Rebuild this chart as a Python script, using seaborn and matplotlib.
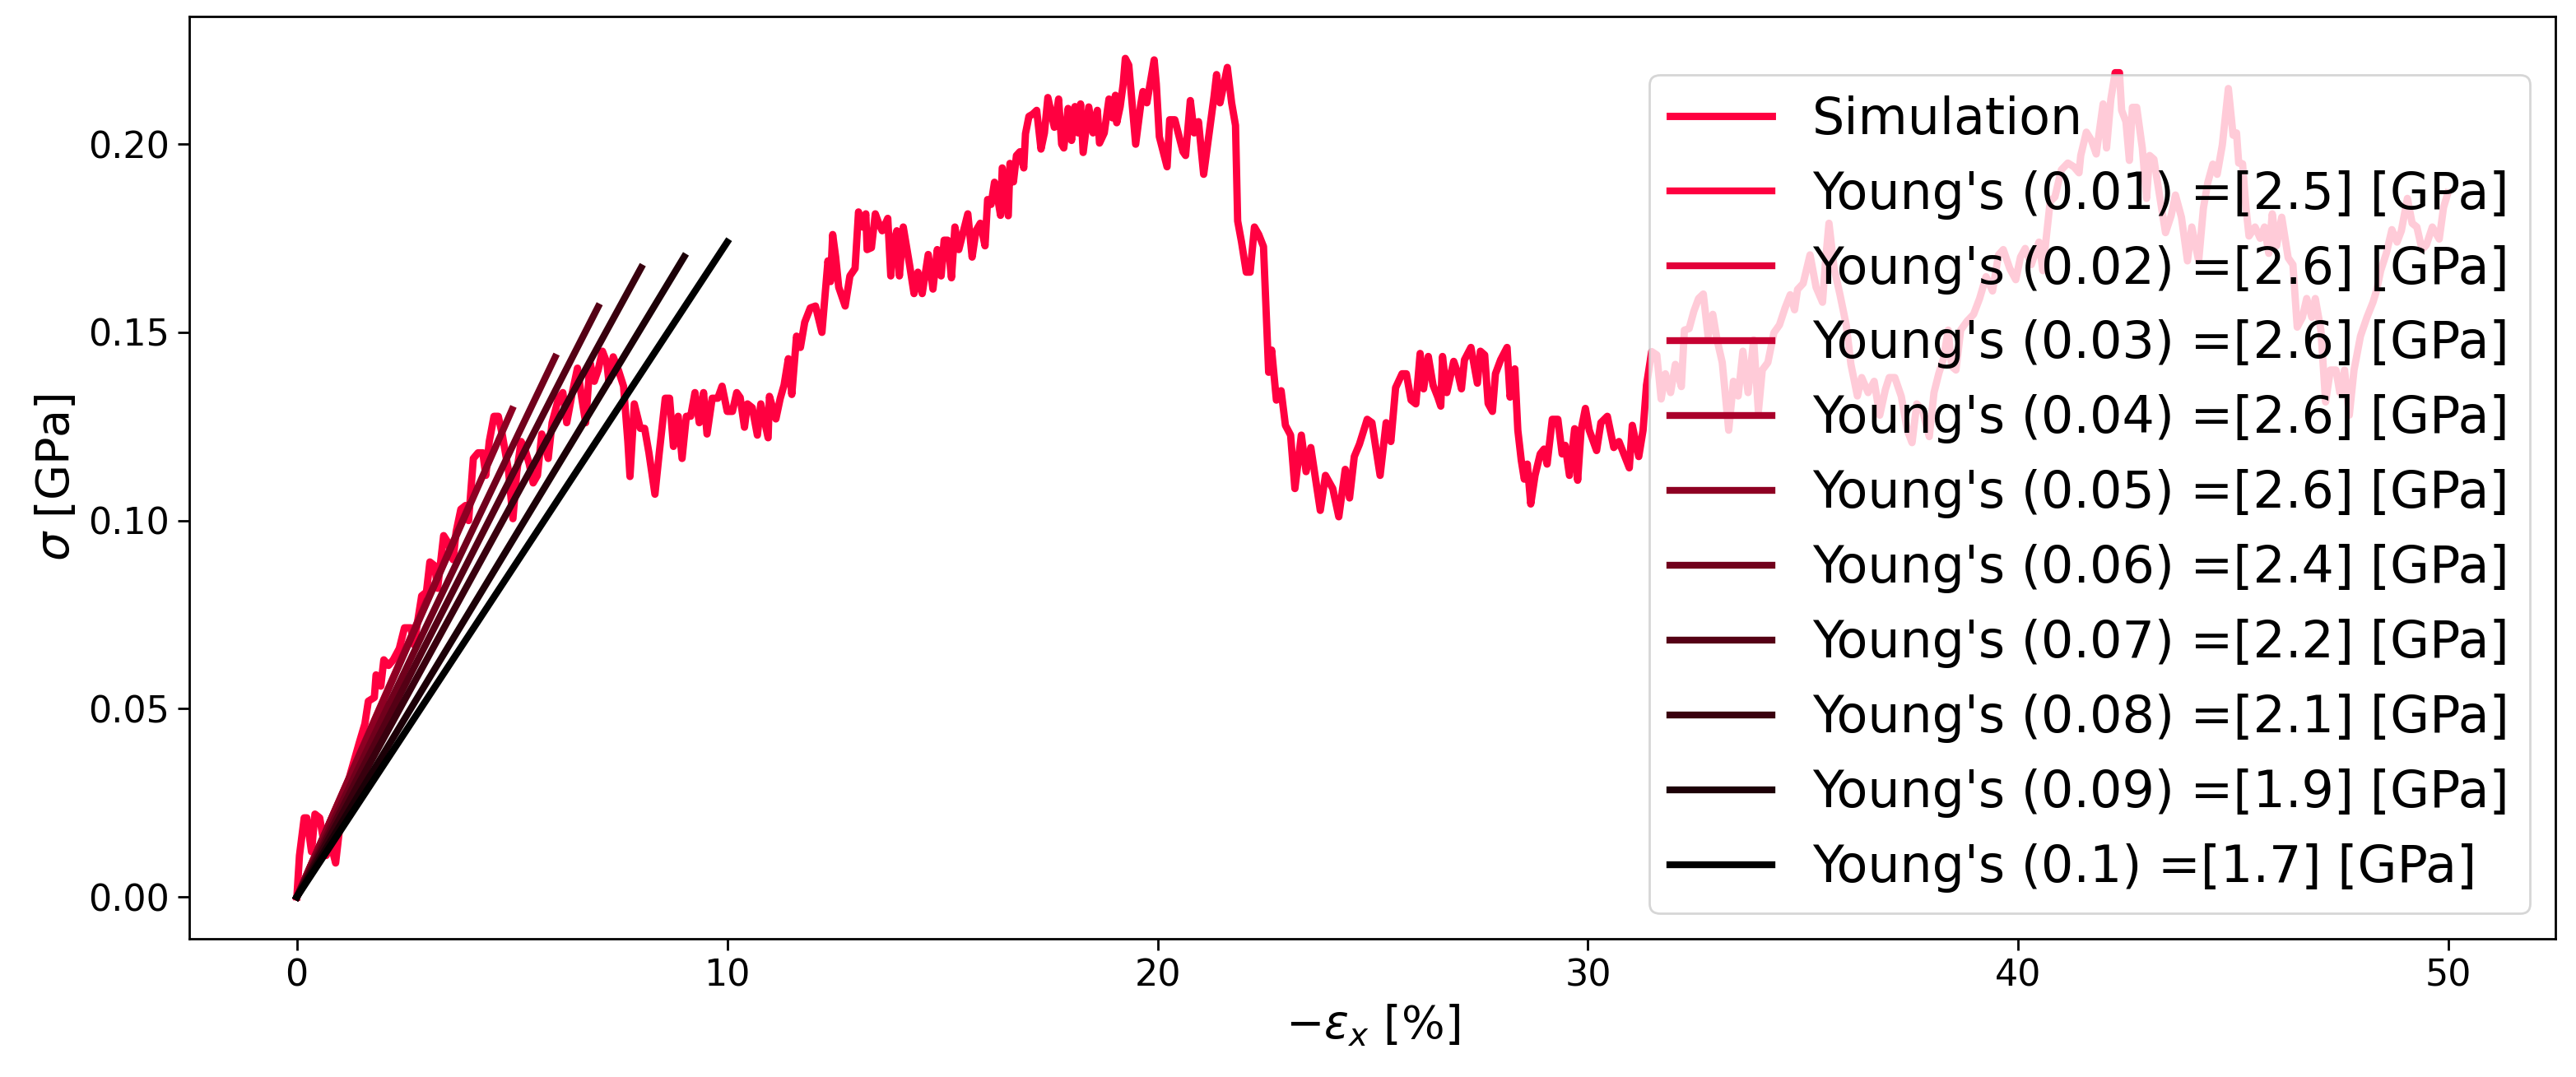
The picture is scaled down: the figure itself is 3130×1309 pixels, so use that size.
import matplotlib
matplotlib.use("Agg")
import matplotlib.pyplot as plt
import seaborn as sns
import numpy as np

# ---- data ----
strain_pct = [
    0.00, 0.06, 0.17, 0.23, 0.34, 0.42, 0.53, 0.68, 0.79, 0.90, 1.05, 1.25, 1.45, 1.58, 1.66, 1.80, 1.84, 1.95,
    2.02, 2.13, 2.24, 2.38, 2.50, 2.65, 2.72, 2.90, 3.01, 3.09, 3.20, 3.27, 3.41, 3.52, 3.63, 3.70, 3.81, 3.92,
    3.99, 4.10, 4.21, 4.32, 4.39, 4.47, 4.58, 4.68, 4.77, 4.92, 5.02, 5.11, 5.21, 5.30, 5.40, 5.49, 5.59, 5.69,
    5.84, 5.93, 6.08, 6.18, 6.27, 6.40, 6.52, 6.62, 6.71, 6.81, 6.91, 7.00, 7.10, 7.20, 7.25, 7.35, 7.47, 7.59,
    7.69, 7.74, 7.84, 7.98, 8.08, 8.18, 8.32, 8.42, 8.56, 8.66, 8.75, 8.86, 8.95, 9.05, 9.15, 9.25, 9.35, 9.45,
    9.53, 9.65, 9.78, 9.88, 10.00, 10.12, 10.22, 10.30, 10.40, 10.47, 10.58, 10.70, 10.78, 10.95, 10.98, 11.13,
    11.23, 11.32, 11.42, 11.50, 11.61, 11.70, 11.80, 11.93, 12.05, 12.20, 12.34, 12.40, 12.45, 12.52, 12.59,
    12.74, 12.85, 12.97, 13.05, 13.14, 13.22, 13.25, 13.35, 13.44, 13.52, 13.60, 13.73, 13.80, 13.87, 13.94,
    14.00, 14.09, 14.24, 14.34, 14.43, 14.53, 14.67, 14.78, 14.88, 14.97, 15.04, 15.12, 15.21, 15.29, 15.38,
    15.48, 15.59, 15.69, 15.78, 15.88, 15.99, 16.05, 16.13, 16.21, 16.28, 16.35, 16.39, 16.53, 16.57, 16.65,
    16.72, 16.80, 16.89, 16.93, 17.01, 17.10, 17.19, 17.29, 17.37, 17.45, 17.60, 17.70, 17.77, 17.82, 17.92,
    18.00, 18.08, 18.15, 18.21, 18.27, 18.40, 18.50, 18.60, 18.65, 18.76, 18.87, 18.95, 19.02, 19.05, 19.13,
    19.20, 19.25, 19.33, 19.49, 19.61, 19.66, 19.75, 19.92, 19.97, 20.04, 20.22, 20.28, 20.40, 20.59, 20.65,
    20.76, 20.85, 20.95, 21.07, 21.31, 21.37, 21.45, 21.62, 21.72, 21.81, 21.86, 21.95, 22.06, 22.15, 22.25,
    22.35, 22.46, 22.58, 22.65, 22.76, 22.87, 22.97, 23.09, 23.19, 23.34, 23.45, 23.56, 23.78, 23.90, 24.07,
    24.21, 24.36, 24.46, 24.57, 24.69, 24.87, 24.98, 25.17, 25.31, 25.42, 25.53, 25.68, 25.78, 25.89, 26.00,
    26.10, 26.18, 26.29, 26.40, 26.51, 26.58, 26.62, 26.72, 26.88, 26.98, 27.06, 27.13, 27.28, 27.43, 27.50,
    27.60, 27.68, 27.78, 27.85, 27.97, 28.12, 28.19, 28.30, 28.37, 28.45, 28.52, 28.59, 28.67, 28.77, 28.89,
    28.98, 29.05, 29.17, 29.30, 29.40, 29.47, 29.57, 29.69, 29.76, 29.84, 29.94, 30.03, 30.20, 30.30, 30.45,
    30.60, 30.72, 30.96, 31.03, 31.18, 31.28, 31.36, 31.48, 31.60, 31.70, 31.80, 31.92, 32.03, 32.17, 32.24,
    32.35, 32.46, 32.57, 32.68, 32.79, 32.90, 33.00, 33.12, 33.27, 33.38, 33.49, 33.60, 33.72, 33.85, 33.96,
    34.05, 34.18, 34.32, 34.45, 34.58, 34.70, 34.80, 34.87, 35.00, 35.16, 35.30, 35.45, 35.52, 35.60, 35.72,
    35.86, 36.00, 36.11, 36.26, 36.36, 36.51, 36.65, 36.78, 36.91, 37.00, 37.13, 37.28, 37.42, 37.53, 37.64,
    37.78, 37.93, 38.04, 38.15, 38.26, 38.37, 38.45, 38.55, 38.66, 38.81, 38.96, 39.10, 39.25, 39.40, 39.54,
    39.65, 39.80, 39.94, 40.05, 40.16, 40.30, 40.48, 40.57, 40.63, 40.74, 40.85, 41.00, 41.15, 41.29, 41.41,
    41.45, 41.58, 41.70, 41.81, 41.97, 42.05, 42.15, 42.25, 42.35, 42.40, 42.50, 42.58, 42.65, 42.75, 42.88,
    42.98, 43.05, 43.15, 43.28, 43.42, 43.55, 43.65, 43.79, 43.93, 44.03, 44.19, 44.30, 44.40, 44.52, 44.62,
    44.74, 44.88, 44.99, 45.07, 45.12, 45.21, 45.29, 45.36, 45.50, 45.62, 45.72, 45.82, 45.90, 46.00, 46.12,
    46.27, 46.38, 46.48, 46.60, 46.70, 46.82, 46.90, 47.03, 47.14, 47.25, 47.38, 47.47, 47.58, 47.69, 47.80,
    47.95, 48.10, 48.24, 48.32, 48.42, 48.55, 48.68, 48.80, 48.90, 49.04, 49.15, 49.26, 49.38, 49.48, 49.62,
    49.78, 49.88, 49.98,
]
stress_gpa = [
    0.000, 0.011, 0.021, 0.021, 0.012, 0.022, 0.021, 0.011, 0.014, 0.009, 0.024, 0.033, 0.041, 0.046, 0.052, 0.053, 0.059, 0.056,
    0.063, 0.0615, 0.063, 0.066, 0.0715, 0.0715, 0.067, 0.080, 0.081, 0.089, 0.088, 0.082, 0.096, 0.094, 0.0896, 0.097, 0.103, 0.104,
    0.100, 0.1165, 0.118, 0.118, 0.112, 0.121, 0.1277, 0.1277, 0.123, 0.113, 0.1005, 0.113, 0.121, 0.119, 0.115, 0.110, 0.112, 0.123,
    0.1165, 0.126, 0.1325, 0.134, 0.126, 0.134, 0.1405, 0.1325, 0.126, 0.142, 0.137, 0.140, 0.145, 0.142, 0.137, 0.1435, 0.140, 0.1357,
    0.121, 0.1117, 0.131, 0.1245, 0.1245, 0.118, 0.107, 0.118, 0.1325, 0.1325, 0.1197, 0.1277, 0.1165, 0.1277, 0.1277, 0.134, 0.126, 0.134,
    0.123, 0.1325, 0.1325, 0.1357, 0.129, 0.129, 0.134, 0.1327, 0.1248, 0.131, 0.130, 0.1227, 0.131, 0.122, 0.133, 0.127,
    0.1324, 0.136, 0.143, 0.1335, 0.149, 0.146, 0.1527, 0.1565, 0.157, 0.150, 0.169, 0.1635, 0.176, 0.170, 0.162,
    0.157, 0.165, 0.167, 0.182, 0.178, 0.1815, 0.172, 0.1725, 0.1815, 0.179, 0.177, 0.1803, 0.165, 0.174, 0.177,
    0.165, 0.178, 0.1677, 0.1603, 0.166, 0.1603, 0.1707, 0.1615, 0.172, 0.165, 0.1745, 0.1745, 0.1645, 0.178, 0.172,
    0.1765, 0.1815, 0.170, 0.177, 0.179, 0.173, 0.1853, 0.184, 0.1899, 0.186, 0.1811, 0.1937, 0.181, 0.1949, 0.190,
    0.197, 0.198, 0.1937, 0.2028, 0.2074, 0.208, 0.209, 0.1987, 0.203, 0.2124, 0.2045, 0.212, 0.200, 0.199, 0.2095,
    0.201, 0.210, 0.203, 0.2107, 0.1978, 0.2099, 0.203, 0.209, 0.2003, 0.203, 0.212, 0.207, 0.213, 0.2057, 0.210,
    0.216, 0.2228, 0.221, 0.200, 0.2107, 0.214, 0.211, 0.2224, 0.216, 0.202, 0.194, 0.2065, 0.2065, 0.198, 0.197,
    0.2116, 0.203, 0.206, 0.192, 0.2126, 0.2185, 0.211, 0.2204, 0.211, 0.205, 0.1796, 0.174, 0.166, 0.166, 0.178,
    0.176, 0.1728, 0.1394, 0.1453, 0.132, 0.1345, 0.1253, 0.1227, 0.1085, 0.1227, 0.113, 0.1194, 0.1027, 0.112, 0.1085,
    0.101, 0.1136, 0.106, 0.117, 0.1203, 0.1269, 0.126, 0.112, 0.126, 0.121, 0.1353, 0.139, 0.139, 0.132, 0.131,
    0.1444, 0.135, 0.1436, 0.136, 0.1328, 0.1304, 0.1436, 0.134, 0.1423, 0.139, 0.135, 0.1427, 0.146, 0.1365, 0.145,
    0.144, 0.1311, 0.129, 0.139, 0.1427, 0.146, 0.1328, 0.1403, 0.124, 0.116, 0.111, 0.115, 0.1044, 0.112, 0.1177,
    0.119, 0.115, 0.1269, 0.1269, 0.1177, 0.120, 0.112, 0.1244, 0.1107, 0.124, 0.1298, 0.124, 0.1186, 0.126, 0.1277,
    0.1194, 0.121, 0.114, 0.1253, 0.117, 0.124, 0.136, 0.1449, 0.144, 0.1323, 0.139, 0.134, 0.1415, 0.1356, 0.1506,
    0.151, 0.1556, 0.159, 0.1602, 0.149, 0.1548, 0.148, 0.142, 0.124, 0.137, 0.1331, 0.145, 0.134, 0.148, 0.129,
    0.140, 0.142, 0.1499, 0.152, 0.1565, 0.160, 0.156, 0.1614, 0.163, 0.1706, 0.162, 0.158, 0.169, 0.179, 0.167,
    0.1598, 0.152, 0.1415, 0.1331, 0.138, 0.134, 0.137, 0.128, 0.1348, 0.138, 0.138, 0.133, 0.124, 0.1207, 0.131,
    0.129, 0.1223, 0.134, 0.139, 0.143, 0.1506, 0.141, 0.140, 0.1506, 0.153, 0.1548, 0.159, 0.1648, 0.161, 0.1706,
    0.172, 0.167, 0.164, 0.170, 0.1723, 0.168, 0.174, 0.1664, 0.1732, 0.1848, 0.186, 0.1932, 0.195, 0.194, 0.1924,
    0.197, 0.2032, 0.201, 0.1974, 0.2107, 0.199, 0.212, 0.219, 0.219, 0.209, 0.206, 0.1957, 0.2098, 0.2098, 0.199,
    0.1856, 0.197, 0.196, 0.1865, 0.1765, 0.181, 0.1865, 0.1806, 0.169, 0.178, 0.169, 0.183, 0.1897, 0.1947, 0.192,
    0.1998, 0.2148, 0.2024, 0.203, 0.195, 0.1948, 0.183, 0.1756, 0.178, 0.175, 0.178, 0.171, 0.1815, 0.173, 0.1806,
    0.1698, 0.168, 0.1514, 0.154, 0.159, 0.154, 0.159, 0.1506, 0.1315, 0.140, 0.140, 0.134, 0.140, 0.128, 0.140,
    0.149, 0.154, 0.158, 0.161, 0.1664, 0.171, 0.1773, 0.174, 0.177, 0.1856, 0.179, 0.178, 0.172, 0.1732, 0.178,
    0.1748, 0.1832, 0.187,
]

fit_strains = [0.01, 0.02, 0.03, 0.04, 0.05, 0.06, 0.07, 0.08, 0.09, 0.1]
fit_moduli = [2.52, 2.58, 2.61, 2.60, 2.59, 2.39, 2.24, 2.09, 1.89, 1.74]   # GPa, slopes
label_moduli = ["2.5", "2.6", "2.6", "2.6", "2.6", "2.4", "2.2", "2.1", "1.9", "1.7"]

SIM_COLOR = (1.0, 0.0, 0.25)

# ---- figure ----
fig = plt.figure(figsize=(15.65, 6.545), dpi=200)
ax = fig.add_axes([0.0735, 0.1283, 0.9185, 0.8564])

sns.lineplot(x=strain_pct, y=stress_gpa, ax=ax, color=SIM_COLOR, lw=3.2,
             label="Simulation", sort=False, estimator=None)

n = len(fit_strains)
for i, (s, E, lab) in enumerate(zip(fit_strains, fit_moduli, label_moduli)):
    f = 1.0 - i / (n - 1)
    col = (SIM_COLOR[0] * f, SIM_COLOR[1] * f, SIM_COLOR[2] * f)
    sns.lineplot(x=[0.0, s * 100], y=[0.0, E * s], ax=ax, color=col, lw=3.0,
                 label=f"Young's ({s}) =[{lab}] [GPa]", sort=False, estimator=None)

ax.set_xlabel(r"$-\varepsilon_x$ [%]", fontsize=20)
ax.set_ylabel(r"$\sigma$ [GPa]", fontsize=20)
ax.tick_params(labelsize=16, width=1.0, length=5)
for sp in ax.spines.values():
    sp.set_linewidth(1.0)
ax.legend(loc="lower right", fontsize=22.3)

fig.savefig("out.png", dpi=200)
